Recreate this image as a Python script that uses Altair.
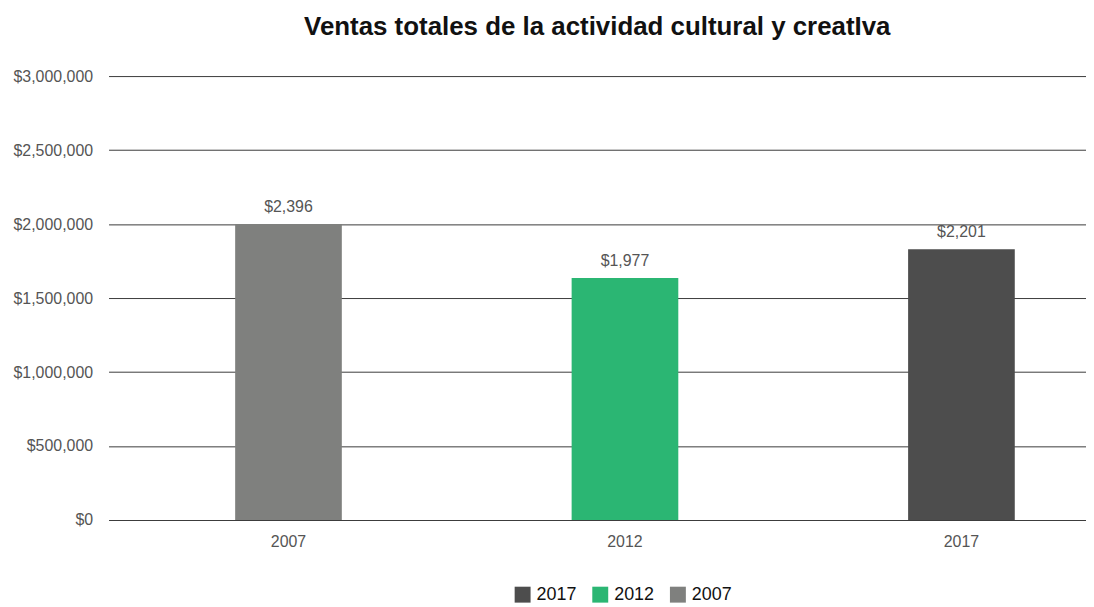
import altair as alt
import pandas as pd

years = ["2007", "2012", "2017"]
values = [2000000, 1635000, 1830000]
labels = ["$2,396", "$1,977", "$2,201"]
legend_order = ["2017", "2012", "2007"]
legend_colors = ["#4d4d4d", "#2bb673", "#7f807e"]
y_ticks = [0, 500000, 1000000, 1500000, 2000000, 2500000, 3000000]

df = pd.DataFrame({"year": years, "value": values, "label": labels})

FONT = "Liberation Sans"

x_enc = alt.X(
    "year:N",
    title=None,
    sort=years,
    scale=alt.Scale(paddingInner=0.683, paddingOuter=0.294, align=0.64),
    axis=alt.Axis(labelAngle=0, domain=False, ticks=False, labelPadding=14,
                  labelFontSize=16, labelColor="#555555", labelFont=FONT),
)
y_enc = alt.Y(
    "value:Q",
    title=None,
    scale=alt.Scale(domain=[0, 3000000], nice=False),
    axis=alt.Axis(values=y_ticks, format="$,.0f", domain=False, ticks=False,
                  labelPadding=16, labelFontSize=16, labelColor="#555555",
                  labelFont=FONT, grid=True, gridColor="#3a3a3a",
                  gridWidth=1),
)

bars = alt.Chart(df).mark_bar().encode(
    x=x_enc,
    y=y_enc,
    color=alt.Color(
        "year:N",
        sort=legend_order,
        scale=alt.Scale(domain=legend_order, range=legend_colors),
        legend=alt.Legend(
            title=None, orient="none", legendX=407, legendY=512,
            direction="horizontal",
            symbolType="square", symbolSize=256, symbolStrokeWidth=0,
            labelFontSize=18, labelColor="#111111", labelFont=FONT,
            columnPadding=14, labelOffset=5,
        ),
    ),
)

text = alt.Chart(df).mark_text(
    baseline="bottom", dy=-9, fontSize=16, color="#555555", font=FONT
).encode(x=alt.X("year:N", sort=years), y="value:Q", text="label:N")

chart = (
    alt.layer(bars, text)
    .properties(
        width=982,
        height=446,
        padding={"left": 4, "top": 5, "right": 0, "bottom": 0},
        title=alt.TitleParams(
            "Ventas totales de la actividad cultural y creatIva",
            fontSize=26, fontWeight="bold", font=FONT,
            color="#111111", offset=28, anchor="middle",
        ),
    )
    .configure_view(stroke=None)
)

chart.save("out.html", embed_options={"renderer": "svg", "actions": False})
